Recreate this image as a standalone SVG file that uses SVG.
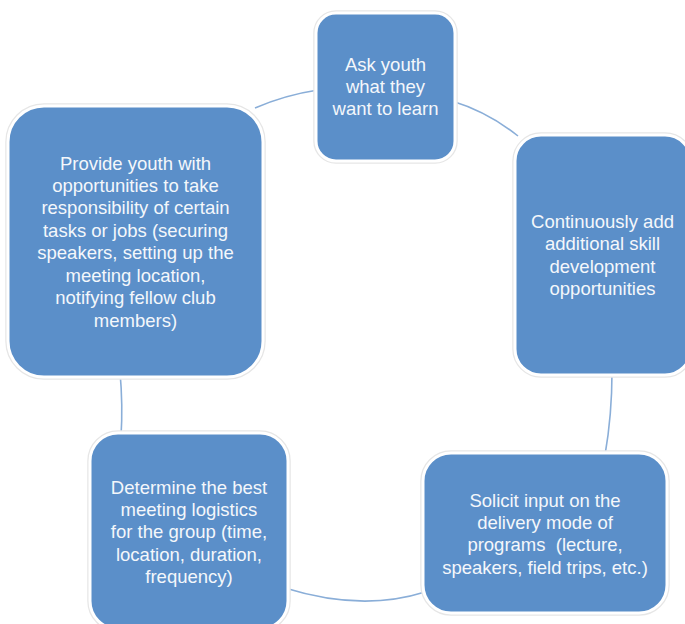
<svg xmlns="http://www.w3.org/2000/svg" width="685" height="624" viewBox="0 0 685 624">
<style>
.box{fill:#5b8fc9;stroke:#ffffff;stroke-width:3}
.halo{fill:none;stroke:#e6e6e6;stroke-width:5.5}
.t{font-family:"Liberation Sans",Arial,sans-serif;font-size:18.5px;fill:#f4f7fb;text-anchor:middle}
.link{fill:none;stroke:#8aaed8;stroke-width:1.6}
</style>
<rect width="685" height="624" fill="#ffffff"/>
<g id="connectors">
<path class="link" d="M255 108 Q285 95 318 90"/>
<path class="link" d="M452 101 Q488 112 518 136"/>
<path class="link" d="M612 372 Q612 415 605 455"/>
<path class="link" d="M285 588 Q362 612 425 592"/>
<path class="link" d="M120 372 Q123 405 121 437"/>
</g>
<g id="node1">
<rect class="halo" x="316" y="13" width="139" height="148" rx="20"/>
<rect class="box" x="316" y="13" width="139" height="148" rx="20"/>
<text class="t"><tspan x="385.5" y="71">Ask youth</tspan><tspan x="385.5" y="93">what they</tspan><tspan x="385.5" y="115">want to learn</tspan></text>
</g>
<g id="node2">
<rect class="halo" x="515" y="135" width="176" height="240" rx="26"/>
<rect class="box" x="515" y="135" width="176" height="240" rx="26"/>
<text class="t"><tspan x="602.5" y="228">Continuously add</tspan><tspan x="602.5" y="250">additional skill</tspan><tspan x="602.5" y="273">development</tspan><tspan x="602.5" y="295">opportunities</tspan></text>
</g>
<g id="node3">
<rect class="halo" x="423" y="453" width="244" height="160" rx="28"/>
<rect class="box" x="423" y="453" width="244" height="160" rx="28"/>
<text class="t" xml:space="preserve"><tspan x="545" y="507">Solicit input on the</tspan><tspan x="545" y="529">delivery mode of</tspan><tspan x="545" y="551">programs  (lecture,</tspan><tspan x="545" y="574">speakers, field trips, etc.)</tspan></text>
</g>
<g id="node4">
<rect class="halo" x="90" y="433" width="198" height="196" rx="28"/>
<rect class="box" x="90" y="433" width="198" height="196" rx="28"/>
<text class="t"><tspan x="189" y="494">Determine the best</tspan><tspan x="189" y="516">meeting logistics</tspan><tspan x="189" y="538">for the group (time,</tspan><tspan x="189" y="561">location, duration,</tspan><tspan x="189" y="583">frequency)</tspan></text>
</g>
<g id="node5">
<rect class="halo" x="8" y="106" width="255" height="271" rx="36"/>
<rect class="box" x="8" y="106" width="255" height="271" rx="36"/>
<text class="t"><tspan x="135.5" y="170">Provide youth with</tspan><tspan x="135.5" y="192">opportunities to take</tspan><tspan x="135.5" y="214">responsibility of certain</tspan><tspan x="135.5" y="237">tasks or jobs (securing</tspan><tspan x="135.5" y="259">speakers, setting up the</tspan><tspan x="135.5" y="282">meeting location,</tspan><tspan x="135.5" y="304">notifying fellow club</tspan><tspan x="135.5" y="327">members)</tspan></text>
</g>
</svg>
